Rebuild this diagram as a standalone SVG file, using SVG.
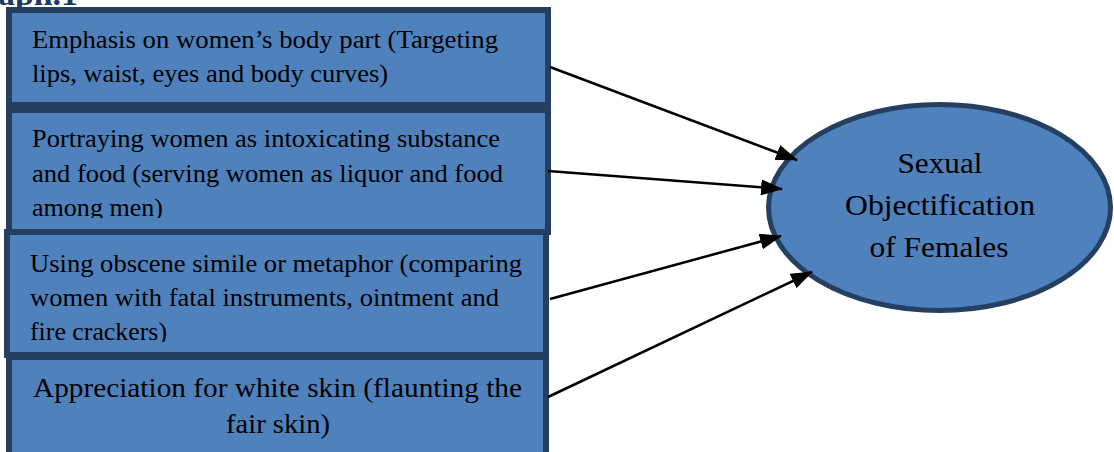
<svg xmlns="http://www.w3.org/2000/svg" width="1114" height="452" viewBox="0 0 1114 452">
<defs>
<style>
.box{fill:#4F81BD;stroke:#243F60;stroke-width:6}
.t{font-family:"Liberation Serif","Times New Roman",serif;font-size:25px;fill:#000}
.tb{font-family:"Liberation Serif","Times New Roman",serif;font-size:28px;fill:#000}
.te{font-family:"Liberation Serif","Times New Roman",serif;font-size:30px;fill:#000;text-anchor:middle}
.conn{stroke:#000;stroke-width:2.5;fill:none;marker-end:url(#ah)}
</style>
<marker id="ah" viewBox="0 0 22 16" refX="21" refY="8" markerWidth="22" markerHeight="16" markerUnits="userSpaceOnUse" orient="auto">
<path d="M0,0 L22,8 L0,16 z" fill="#000"/>
</marker>
<clipPath id="c2"><rect x="0" y="110" width="560" height="108"/></clipPath>
<clipPath id="c3"><rect x="0" y="232" width="560" height="110"/></clipPath>
</defs>
<rect width="1114" height="452" fill="#fff"/>
<text x="-2" y="5" textLength="80" lengthAdjust="spacingAndGlyphs" style="font-family:'Liberation Serif',serif;font-weight:bold;font-size:32px;fill:#1F3864">aph.1</text>
<g id="node1">
<rect class="box" x="9" y="10" width="539" height="95"/>
<text class="t" x="32" y="48" textLength="466" lengthAdjust="spacingAndGlyphs">Emphasis on women’s body part (Targeting</text>
<text class="t" x="32" y="82" textLength="356" lengthAdjust="spacingAndGlyphs">lips, waist, eyes and body curves)</text>
</g>
<g id="node2">
<rect class="box" x="9" y="110" width="539" height="122"/>
<g clip-path="url(#c2)">
<text class="t" x="32" y="147" textLength="468" lengthAdjust="spacingAndGlyphs">Portraying women as intoxicating substance</text>
<text class="t" x="32" y="182" textLength="471" lengthAdjust="spacingAndGlyphs">and food (serving women as liquor and food</text>
<text class="t" x="32" y="216" textLength="131" lengthAdjust="spacingAndGlyphs">among men)</text>
</g>
</g>
<g id="node3">
<rect class="box" x="7" y="232" width="539" height="123"/>
<g clip-path="url(#c3)">
<text class="t" x="30" y="272" textLength="492" lengthAdjust="spacingAndGlyphs">Using obscene simile or metaphor (comparing</text>
<text class="t" x="30" y="306" textLength="469" lengthAdjust="spacingAndGlyphs">women with fatal instruments, ointment and</text>
<text class="t" x="30" y="340" textLength="137" lengthAdjust="spacingAndGlyphs">fire crackers)</text>
</g>
</g>
<g id="node4">
<rect class="box" x="9" y="357" width="537" height="110"/>
<text class="tb" x="33" y="397" textLength="489" lengthAdjust="spacingAndGlyphs">Appreciation for white skin (flaunting the</text>
<text class="tb" x="226" y="433" textLength="104" lengthAdjust="spacingAndGlyphs">fair skin)</text>
</g>
<g id="target">
<ellipse cx="939.5" cy="207.5" rx="171" ry="103" fill="#4F81BD" stroke="#243F60" stroke-width="5"/>
<text class="te" x="940" y="173" textLength="85" lengthAdjust="spacingAndGlyphs">Sexual</text>
<text class="te" x="940" y="215" textLength="190" lengthAdjust="spacingAndGlyphs">Objectification</text>
<text class="te" x="939" y="257" textLength="139" lengthAdjust="spacingAndGlyphs">of Females</text>
</g>
<g id="connectors">
<line class="conn" x1="550" y1="67" x2="797" y2="160"/>
<line class="conn" x1="548" y1="171" x2="782" y2="189"/>
<line class="conn" x1="550" y1="299" x2="781" y2="236"/>
<line class="conn" x1="548" y1="397" x2="812" y2="272"/>
</g>
</svg>
